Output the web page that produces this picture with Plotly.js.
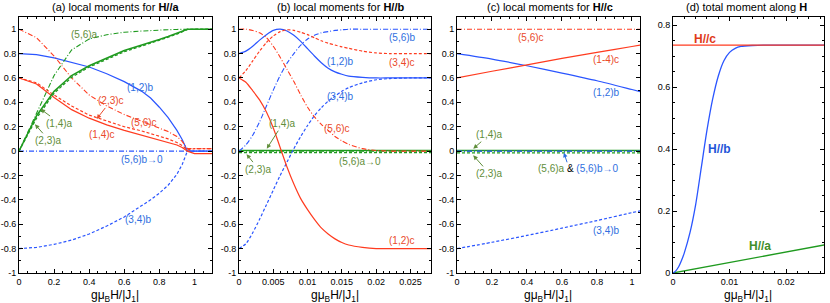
<!DOCTYPE html>
<html><head><meta charset="utf-8">
<script src="https://cdn.plot.ly/plotly-3.0.1.min.js"></script>
<style>html,body{margin:0;padding:0;background:#fff}#chart{width:830px;height:303px}</style>
</head><body><div id="chart"></div>
<script>
// ---------- Panel (a): H//a ----------
const xa = [0, 0.1, 0.2, 0.3, 0.4, 0.5, 0.6, 0.7, 0.75, 0.8, 0.85, 0.9, 0.93, 0.96, 1.0, 1.1];
const a_12b = [0.80, 0.792, 0.765, 0.73, 0.69, 0.635, 0.57, 0.49, 0.435, 0.36, 0.275, 0.17, 0.095, 0.0, 0, 0];
const a_34b = [-0.8, -0.79, -0.765, -0.73, -0.68, -0.615, -0.54, -0.45, -0.4, -0.345, -0.28, -0.19, -0.11, 0, 0, 0];
const a_56b = [0, 0, 0, 0, 0, 0, 0, 0, 0, 0, 0, 0, 0, 0, 0, 0];
const a_56a = [0, 0.31, 0.62, 0.83, 0.92, 0.955, 0.975, 0.985, 0.99, 0.993, 0.996, 0.998, 1, 1, 1, 1];
const a_14a = [0, 0.29, 0.49, 0.62, 0.70, 0.765, 0.825, 0.87, 0.89, 0.915, 0.94, 0.965, 0.985, 1, 1, 1];
const a_23a = [0, 0.27, 0.475, 0.605, 0.69, 0.755, 0.815, 0.862, 0.884, 0.908, 0.934, 0.96, 0.98, 0.998, 1, 1];
const a_14c = [0.6, 0.55, 0.44, 0.34, 0.27, 0.215, 0.17, 0.13, 0.11, 0.095, 0.075, 0.05, 0.03, 0.0, -0.02, -0.02];
const a_23c = [0.6, 0.56, 0.46, 0.37, 0.295, 0.245, 0.2, 0.165, 0.145, 0.125, 0.1, 0.07, 0.045, 0.01, 0.02, 0.02];
const a_56c = [1, 0.93, 0.78, 0.6, 0.46, 0.37, 0.3, 0.245, 0.22, 0.19, 0.16, 0.12, 0.08, 0.02, 0.02, 0.02];

// ---------- Panel (b): H//b ----------
const xb = [0, 0.001, 0.002, 0.003, 0.004, 0.005, 0.006, 0.007, 0.008, 0.009, 0.01, 0.011, 0.012, 0.013, 0.014, 0.015, 0.016, 0.018, 0.02, 0.022, 0.025, 0.028];
const b_12b = [0.8, 0.82, 0.86, 0.91, 0.955, 0.99, 1.0, 0.985, 0.95, 0.9, 0.84, 0.78, 0.725, 0.68, 0.65, 0.63, 0.615, 0.605, 0.6, 0.6, 0.6, 0.6];
const b_34c = [0.6, 0.66, 0.74, 0.82, 0.89, 0.945, 0.98, 0.995, 0.99, 0.975, 0.955, 0.93, 0.905, 0.885, 0.87, 0.855, 0.843, 0.82, 0.805, 0.8, 0.8, 0.8];
const b_56c = [1, 1, 0.99, 0.97, 0.93, 0.86, 0.77, 0.67, 0.57, 0.46, 0.36, 0.28, 0.22, 0.17, 0.12, 0.085, 0.055, 0.02, 0.005, 0, 0, 0];
const b_56b = [0, 0.05, 0.13, 0.24, 0.37, 0.5, 0.62, 0.72, 0.8, 0.87, 0.92, 0.95, 0.97, 0.98, 0.99, 0.995, 1, 1, 1, 1, 1, 1];
const b_34b = [-0.8, -0.76, -0.67, -0.56, -0.44, -0.32, -0.2, -0.09, 0.02, 0.12, 0.21, 0.29, 0.355, 0.41, 0.45, 0.49, 0.52, 0.56, 0.585, 0.595, 0.6, 0.6];
const b_12c = [0.6, 0.565, 0.495, 0.42, 0.32, 0.19, 0.03, -0.13, -0.27, -0.39, -0.48, -0.56, -0.63, -0.68, -0.72, -0.75, -0.77, -0.79, -0.8, -0.8, -0.8, -0.8];
const b_14a = xb.map(() => 0.005);
const b_23a = xb.map(() => -0.013);
const b_56a = xb.map(() => 0);

// ---------- Panel (c): H//c ----------
const xc = [0, 0.2, 0.4, 0.6, 0.8, 1.0, 1.05];
const c_56c = [1, 1, 1, 1, 1, 1, 1];
const c_14c = [0.6, 0.655, 0.707, 0.76, 0.81, 0.858, 0.87];
const c_12b = [0.8, 0.755, 0.70, 0.64, 0.577, 0.505, 0.487];
const c_34b = [-0.8, -0.748, -0.692, -0.632, -0.57, -0.505, -0.49];
const c_14a = [0.005, 0.005, 0.005, 0.005, 0.005, 0.005, 0.005];
const c_23a = [-0.015, -0.015, -0.015, -0.015, -0.015, -0.015, -0.015];
const c_56a = [0, 0, 0, 0, 0, 0, 0];
const c_56b = [0, 0, 0, 0, 0, 0, 0];

// ---------- Panel (d): total moment ----------
const xd_b = [0, 0.0005, 0.001, 0.0015, 0.002, 0.003, 0.004, 0.005, 0.006, 0.007, 0.008, 0.009, 0.01, 0.011, 0.012, 0.014, 0.016, 0.02, 0.027];
const d_Hb = [0, 0.007, 0.02, 0.04, 0.065, 0.13, 0.22, 0.34, 0.46, 0.56, 0.635, 0.685, 0.712, 0.725, 0.731, 0.734, 0.735, 0.735, 0.735];
const xd_lin = [0, 0.027];
const d_Hc = [0.735, 0.735];
const d_Ha = [0, 0.0913];

// ---------- tick labels ----------
const yTickVals = [-1, -0.8, -0.6, -0.4, -0.2, 0, 0.2, 0.4, 0.6, 0.8, 1];
const yTickText = ['-1', '-0.8', '-0.6', '-0.4', '-0.2', '0', '0.2', '0.4', '0.6', '0.8', '1'];

// ---------- styling ----------
const BLUE = '#2a55ff', RED = '#ff3b1f', GREEN = '#1f9a1f';
const TBLUE = '#2f6fe0', TRED = '#ea4a2a', TGREEN = '#5f8e3a';
const DASH = '3px,2px', DDOT = '5px,2px,1px,2px';
const FONT = 'Liberation Sans, Arial, sans-serif';

function tr(x, y, color, dash, w, ax, shape) {
  return {x: x, y: y, type: 'scatter', mode: 'lines', xaxis: 'x' + ax, yaxis: 'y' + ax,
    line: {color: color, dash: dash, width: w, shape: shape || 'linear', smoothing: 0.7},
    hoverinfo: 'skip', showlegend: false};
}
const traces = [
  tr(xa, a_56b, BLUE, DDOT, 1.1, ''),
  tr(xa, a_34b, BLUE, DASH, 1.2, ''),
  tr(xa, a_12b, BLUE, 'solid', 1.2, ''),
  tr(xa, a_56c, RED, DDOT, 1.1, ''),
  tr(xa, a_23c, RED, DASH, 1.2, ''),
  tr(xa, a_14c, RED, 'solid', 1.2, ''),
  tr(xa, a_56a, GREEN, DDOT, 1.1, ''),
  tr(xa, a_23a, GREEN, DASH, 1.3, ''),
  tr(xa, a_14a, GREEN, 'solid', 1.5, ''),

  tr(xb, b_14a, GREEN, 'solid', 1.6, '2'),
  tr(xb, b_23a, GREEN, DASH, 1.2, '2'),
  tr(xb, b_56a, GREEN, DDOT, 1.1, '2'),
  tr(xb, b_56b, BLUE, DDOT, 1.1, '2', 'spline'),
  tr(xb, b_34b, BLUE, DASH, 1.2, '2', 'spline'),
  tr(xb, b_12b, BLUE, 'solid', 1.2, '2', 'spline'),
  tr(xb, b_56c, RED, DDOT, 1.1, '2', 'spline'),
  tr(xb, b_34c, RED, DASH, 1.2, '2', 'spline'),
  tr(xb, b_12c, RED, 'solid', 1.2, '2', 'spline'),

  tr(xc, c_14a, GREEN, 'solid', 1.6, '3'),
  tr(xc, c_23a, GREEN, DASH, 1.2, '3'),
  tr(xc, c_56a, GREEN, DDOT, 1.1, '3'),
  tr(xc, c_56b, BLUE, DDOT, 1.1, '3'),
  tr(xc, c_34b, BLUE, DASH, 1.2, '3', 'spline'),
  tr(xc, c_12b, BLUE, 'solid', 1.2, '3', 'spline'),
  tr(xc, c_56c, RED, DDOT, 1.1, '3'),
  tr(xc, c_14c, RED, 'solid', 1.2, '3', 'spline'),

  tr(xd_lin, d_Ha, GREEN, 'solid', 1.3, '4'),
  tr(xd_b, d_Hb, BLUE, 'solid', 1.3, '4', 'spline'),
  tr(xd_lin, d_Hc, RED, 'solid', 1.3, '4')
];

const W = 830, H = 303;
const px = v => v / W, py = v => 1 - v / H;
const YD = [py(273), py(17)];

function axis(dom, range, dtick, mdtick, anchor, extra) {
  return Object.assign({
    domain: dom, range: range, dtick: dtick, tick0: 0, anchor: anchor,
    showline: true, linecolor: '#000', linewidth: 1, mirror: 'allticks',
    ticks: 'inside', ticklen: 4, tickwidth: 1, tickcolor: '#000',
    minor: {ticks: 'inside', ticklen: 2, dtick: mdtick, tick0: 0, tickcolor: '#000', tickwidth: 1},
    showgrid: false, zeroline: false, tickfont: {size: 9, family: FONT, color: '#000'}, fixedrange: true
  }, extra || {});
}
const yExtra = {tickmode: 'array', tickvals: yTickVals, ticktext: yTickText};

const layout = {
  width: W, height: H, margin: {l: 0, r: 0, t: 0, b: 0},
  paper_bgcolor: '#fff', plot_bgcolor: '#fff', font: {family: FONT, color: '#000'},
  xaxis:  axis([px(19), px(212)], [0, 1.1], 0.2, 0.05, 'y'),
  yaxis:  axis(YD, [-1, 1.1], 0.2, 0.1, 'x', yExtra),
  xaxis2: axis([px(239), px(431)], [0, 0.028], 0.005, 0.001, 'y2'),
  yaxis2: axis(YD, [-1, 1.1], 0.2, 0.1, 'x2', yExtra),
  xaxis3: axis([px(457), px(640)], [0, 1.046], 0.2, 0.05, 'y3'),
  yaxis3: axis(YD, [-1, 1.1], 0.2, 0.1, 'x3', yExtra),
  xaxis4: axis([px(673), px(824)], [0, 0.0267], 0.01, 0.002, 'y4'),
  yaxis4: axis(YD, [0, 0.826], 0.2, 0.05, 'x4'),
  annotations: []
};

function lab(text, x, y, color, size, bold) {
  layout.annotations.push({text: bold ? '<b>' + text + '</b>' : text, x: px(x), y: py(y),
    xref: 'paper', yref: 'paper', showarrow: false, xanchor: 'center', yanchor: 'middle',
    font: {size: size || 10, color: color, family: FONT}});
}
function arr(text, ax, xv, yv, offx, offy, color, tcolor) {
  layout.annotations.push({text: text, x: xv, y: yv, xref: 'x' + ax, yref: 'y' + ax,
    ax: offx, ay: offy, showarrow: true, arrowhead: 2, arrowsize: 0.9, arrowwidth: 1,
    arrowcolor: color, font: {size: 10, color: tcolor || color, family: FONT}});
}

// titles
lab('(a) local moments for <b>H//a</b>', 115, 7, '#000', 11);
lab('(b) local moments for <b>H//b</b>', 340, 7, '#000', 11);
lab('(c) local moments for <b>H//c</b>', 550, 7, '#000', 11);
lab('(d) total moment along <b>H</b>', 746, 7, '#000', 11);
// axis titles
const XT = 'gμ<sub>B</sub>H/|J<sub>1</sub>|';
lab(XT, 115, 296, '#000', 12);
lab(XT, 335, 296, '#000', 12);
lab(XT, 548, 296, '#000', 12);
lab(XT, 748, 296, '#000', 12);

// panel a labels
lab('(5,6)a', 84, 34, TGREEN);
lab('(1,2)b', 140, 87, TBLUE);
lab('(5,6)c', 144, 122, TRED);
lab('(1,4)c', 102, 135, TRED);
lab('(5,6)b→0', 142, 160, TBLUE);
lab('(3,4)b', 138, 219, TBLUE);
arr('(2,3)c', '', 0.443, 0.264, 14, -18, TRED);
arr('(1,4)a', '', 0.123, 0.345, 19, 14, TGREEN);
arr('(2,3)a', '', 0.091, 0.22, 14, 16, TGREEN);

// panel b labels
lab('(5,6)b', 402, 37, TBLUE);
lab('(1,2)b', 340, 61, TBLUE);
lab('(3,4)c', 402, 63, TRED);
lab('(3,4)b', 340, 96, TBLUE);
lab('(5,6)c', 337, 129, TRED);
lab('(5,6)a→0', 360, 161, TGREEN);
lab('(1,2)c', 402, 240, TRED);
arr('(1,4)a', '2', 0.00405, 0.02, 16, -25, TGREEN);
arr('(2,3)a', '2', 0.0011, -0.025, 12, 15, TGREEN);

// panel c labels
lab('(5,6)c', 531, 38, TRED);
lab('(1-4)c', 606, 60, TRED);
lab('(1,2)b', 606, 92, TBLUE);
lab('(3,4)b', 606, 230, TBLUE);
lab('<span style="color:' + TGREEN + '">(5,6)a</span> &amp; <span style="color:' + TBLUE + '">(5,6)b→0</span>', 578, 168, '#000');
arr('(1,4)a', '3', 0.093, 0.02, 16, -14, TGREEN);
arr('(2,3)a', '3', 0.093, -0.035, 16, 18, TGREEN);
layout.annotations.push({text: ' ', x: 0.611, y: -0.014, xref: 'x3', yref: 'y3', ax: 4, ay: 12,
  showarrow: true, arrowhead: 2, arrowsize: 0.9, arrowwidth: 1, arrowcolor: TBLUE, font: {size: 2}});

// panel d labels
lab('H//c', 705, 39, '#e03a1a', 12, true);
lab('H//b', 719, 149, '#1f55d8', 12, true);
lab('H//a', 760, 246, '#3f8e2a', 12, true);

Plotly.newPlot('chart', traces, layout, {staticPlot: true, displayModeBar: false});
</script></body></html>
